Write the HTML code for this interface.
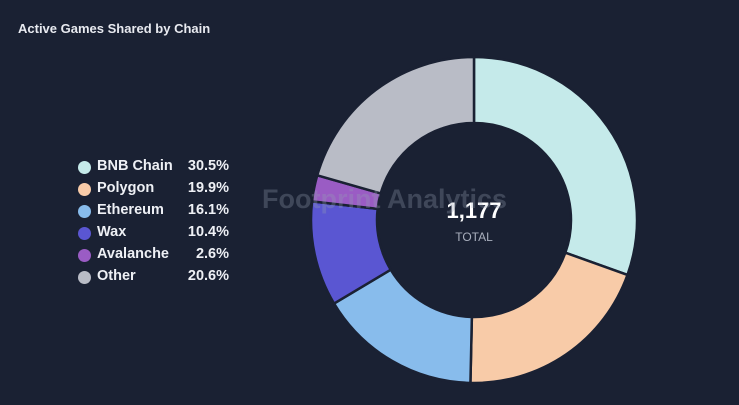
<!DOCTYPE html>
<html><head><meta charset="utf-8"><style>
body{margin:0;width:739px;height:405px;background:#1a2133;overflow:hidden;font-family:"Liberation Sans",sans-serif}
#title{position:absolute;left:18px;top:21px;color:#e8eaf0;font-size:13px;font-weight:bold}
.row{position:absolute;left:77px;width:152px;height:20px;color:#eef0f5;font-size:14.5px;font-weight:bold}
.dot{position:absolute;left:1px;top:3px;width:13px;height:13px;border-radius:50%}
.lbl{position:absolute;left:20px;top:0}
.pct{position:absolute;right:0;top:0}
#wm{position:absolute;left:262px;top:184px;color:rgba(150,160,180,0.3);font-size:27px;font-weight:bold}
</style></head><body>
<div id="title">Active Games Shared by Chain</div>
<div id="legend"></div>
<svg id="chart" width="739" height="405" style="position:absolute;left:0;top:0"></svg>
<div id="wm">Footprint Analytics</div>
<script>
const categories=["BNB Chain","Polygon","Ethereum","Wax","Avalanche","Other"];
const values=[30.5,19.9,16.1,10.4,2.6,20.6];
const colors=["#c5eaea","#f8cba8","#88bcec","#5a56d2","#9a5cc4","#b9bcc6"];
const total="1,177";
const ns="http://www.w3.org/2000/svg";
const svg=document.getElementById('chart');
const cx=474,cy=220,R=163,r=97;
const sum=values.reduce((a,b)=>a+b,0);
let a0=0;
function pt(rad,a){return [cx+rad*Math.sin(a),cy-rad*Math.cos(a)];}
values.forEach((v,i)=>{
  const a1=a0+v/sum*2*Math.PI;
  const large=(a1-a0)>Math.PI?1:0;
  const p1=pt(R,a0),p2=pt(R,a1),p3=pt(r,a1),p4=pt(r,a0);
  const p=document.createElementNS(ns,'path');
  p.setAttribute('d',`M${p1}A${R},${R} 0 ${large} 1 ${p2}L${p3}A${r},${r} 0 ${large} 0 ${p4}Z`);
  p.setAttribute('fill',colors[i]);p.setAttribute('stroke','#1a2133');p.setAttribute('stroke-width','2.5');
  
  
  svg.appendChild(p);a0=a1;
});
const t1=document.createElementNS(ns,'text');
t1.setAttribute('x',cx);t1.setAttribute('y',cy-2);t1.setAttribute('text-anchor','middle');
t1.setAttribute('fill','#ffffff');t1.setAttribute('font-size','22');t1.setAttribute('font-weight','bold');t1.setAttribute('font-family','Liberation Sans');
t1.textContent=total;


svg.appendChild(t1);
const t2=document.createElementNS(ns,'text');
t2.setAttribute('x',cx);t2.setAttribute('y',cy+21);t2.setAttribute('text-anchor','middle');
t2.setAttribute('fill','#a9afbd');t2.setAttribute('font-size','12');t2.setAttribute('font-family','Liberation Sans');
t2.textContent='TOTAL';


svg.appendChild(t2);
const lg=document.getElementById('legend');
categories.forEach((c,i)=>{
  const d=document.createElement('div');d.className='row';d.style.top=(158+i*21.9)+'px';
  
  
  d.innerHTML=`<span class="dot" style="background:${colors[i]}"></span><span class="lbl">${c}</span><span class="pct">${values[i].toFixed(1)}%</span>`;
  lg.appendChild(d);
});
</script>
</body></html>
